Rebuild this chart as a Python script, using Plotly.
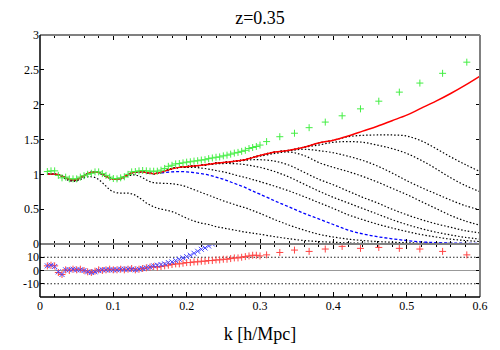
import plotly.graph_objects as go

# k grid shared by the model curves
k_grid = [0.010, 0.015, 0.020, 0.025, 0.030, 0.035, 0.040, 0.045, 0.050, 0.055,
          0.060, 0.065, 0.070, 0.075, 0.080, 0.085, 0.090, 0.095, 0.100, 0.105,
          0.110, 0.115, 0.120, 0.125, 0.130, 0.135, 0.140, 0.145, 0.150, 0.155,
          0.160, 0.17, 0.18, 0.19, 0.20, 0.21, 0.22, 0.23, 0.24, 0.25, 0.26, 0.27, 0.28, 0.29, 0.30,
          0.32, 0.34, 0.36, 0.38, 0.40, 0.42, 0.44, 0.46, 0.48, 0.50, 0.52, 0.54, 0.56, 0.58, 0.60]

red_line = [1.00, 1.005, 1.005, 0.995, 0.975, 0.95, 0.93, 0.92, 0.925, 0.95,
            0.98, 1.01, 1.03, 1.035, 1.025, 1.0, 0.97, 0.945, 0.93, 0.93,
            0.94, 0.965, 0.995, 1.02, 1.035, 1.04, 1.035, 1.025, 1.015, 1.01,
            1.015, 1.045, 1.08, 1.10, 1.11, 1.12, 1.13, 1.145, 1.16, 1.17, 1.18, 1.195, 1.21, 1.24, 1.27,
            1.32, 1.345, 1.39, 1.45, 1.49, 1.55, 1.62, 1.69, 1.77, 1.85, 1.95, 2.05, 2.16, 2.28, 2.41]

# tails of the curves where they leave the red one (aligned to the end of k_grid)
blue_tail = [1.01, 1.015,
             1.025, 1.035, 1.04, 1.035, 1.025, 1.01, 0.99, 0.96, 0.93, 0.89, 0.85, 0.81, 0.76, 0.715,
             0.62, 0.53, 0.44, 0.36, 0.28, 0.20, 0.145, 0.105, 0.075, 0.05, 0.03, 0.02, 0.013, 0.01, 0.008]

dotted_tails = [
    [0.99, 0.965, 0.935, 0.91, 0.9, 0.905, 0.925, 0.95, 0.965, 0.965, 0.955, 0.925, 0.88, 0.83,
     0.78, 0.75, 0.735, 0.73, 0.73, 0.73, 0.72, 0.70, 0.665, 0.63, 0.59, 0.56, 0.535, 0.515,
     0.49, 0.465, 0.42, 0.37, 0.33, 0.30, 0.28, 0.25, 0.23, 0.21, 0.19, 0.17, 0.155, 0.14,
     0.105, 0.075, 0.05, 0.035, 0.025, 0.015, 0.01, 0.007, 0.005, 0.004, 0.003, 0.002, 0.002, 0.001, 0.001],
    [0.925, 0.93, 0.95, 0.975, 0.99, 0.99, 0.975, 0.95, 0.92, 0.895, 0.88, 0.875,
     0.87, 0.865, 0.85, 0.82, 0.78, 0.74, 0.70, 0.66, 0.62, 0.585, 0.55, 0.52, 0.48, 0.44,
     0.35, 0.27, 0.20, 0.14, 0.10, 0.07, 0.05, 0.035, 0.025, 0.018, 0.013, 0.01, 0.008, 0.006, 0.005],
    [1.10, 1.10, 1.09, 1.075, 1.055, 1.035, 1.01, 0.98, 0.955, 0.925, 0.895,
     0.83, 0.76, 0.68, 0.595, 0.51, 0.42, 0.35, 0.285, 0.23, 0.18, 0.135, 0.10, 0.07, 0.05, 0.035],
    [1.14, 1.15, 1.155, 1.155, 1.15, 1.14, 1.12, 1.10,
     1.04, 0.96, 0.86, 0.76, 0.67, 0.59, 0.51, 0.43, 0.35, 0.28, 0.22, 0.17, 0.13, 0.095, 0.07],
    [1.19, 1.2, 1.21, 1.21,
     1.19, 1.13, 1.03, 0.93, 0.85, 0.76, 0.67, 0.59, 0.5, 0.42, 0.35, 0.29, 0.24, 0.19, 0.16],
    [1.26, 1.30, 1.32, 1.27, 1.17, 1.1, 1.04, 0.97, 0.89, 0.8, 0.71, 0.61, 0.51, 0.41, 0.33, 0.27],
    [1.34, 1.36, 1.34, 1.31, 1.26, 1.2, 1.12, 1.02, 0.91, 0.81, 0.72, 0.63, 0.55, 0.49],
    [1.42, 1.46, 1.47, 1.46, 1.42, 1.37, 1.3, 1.2, 1.08, 0.95, 0.84, 0.75],
    [1.54, 1.56, 1.565, 1.565, 1.55, 1.48, 1.37, 1.25, 1.14, 1.04],
]

# simulation points
k_dense = [0.010, 0.015, 0.020, 0.025, 0.030, 0.035, 0.040, 0.045, 0.050, 0.055,
           0.060, 0.065, 0.070, 0.075, 0.080, 0.085, 0.090, 0.095, 0.100, 0.105,
           0.110, 0.115, 0.120, 0.125, 0.130, 0.135, 0.140, 0.145, 0.150, 0.155,
           0.160, 0.165, 0.170, 0.175, 0.180, 0.185, 0.190, 0.195, 0.200, 0.205,
           0.210, 0.215, 0.220, 0.225, 0.230, 0.235, 0.240, 0.245, 0.250, 0.255,
           0.260, 0.265, 0.270, 0.275, 0.280, 0.285, 0.290, 0.295, 0.300]
green_dense = [1.04, 1.05, 1.05, 0.985, 0.95, 0.96, 0.935, 0.935, 0.935, 0.96,
               0.98, 1.0, 1.015, 1.035, 1.035, 1.01, 0.985, 0.96, 0.94, 0.935,
               0.95, 0.965, 1.0, 1.035, 1.04, 1.05, 1.055, 1.05, 1.045, 1.045,
               1.045, 1.06, 1.085, 1.115, 1.13, 1.15, 1.155, 1.165, 1.175, 1.18,
               1.19, 1.195, 1.205, 1.21, 1.225, 1.235, 1.245, 1.25, 1.265, 1.275,
               1.29, 1.305, 1.315, 1.33, 1.345, 1.37, 1.385, 1.40, 1.42]
k_sparse = [0.309, 0.327, 0.347, 0.367, 0.389, 0.412, 0.437, 0.462, 0.490, 0.518, 0.549, 0.582]
green_sparse = [1.47, 1.54, 1.59, 1.67, 1.75, 1.84, 1.94, 2.05, 2.18, 2.31, 2.45, 2.61]

# residuals [%]
red_dev_dense = [3.5, 4.0, 3.5, -1.5, -3.0, 0.5, 0.0, 1.0, 0.5, 1.0,
                 0.0, -1.0, -1.5, -0.5, 0.5, 0.0, 0.5, 1.0, 0.5, 0.5,
                 1.0, 0.5, 1.0, 1.5, 0.5, 1.0, 1.5, 2.0, 2.5, 3.0,
                 2.5, 3.0, 3.5, 4.0, 4.5, 5.0, 5.0, 5.5, 6.0, 6.0,
                 6.5, 6.5, 7.0, 7.0, 7.5, 7.5, 8.0, 8.0, 8.5, 8.5,
                 9.0, 9.5, 9.5, 10.0, 10.5, 11.0, 11.5, 11.5, 11.0]
red_dev_sparse = [11.8, 13.6, 15.4, 14.4, 16.2, 18.2, 16.7, 17.4, 16.7, 16.2, 14.4, 11.8]
blue_dev = [3.5, 4.0, 3.0, -1.0, -3.0, 0.5, 0.5, 1.0, 0.5, 0.5,
            0.0, -1.0, -1.5, -1.0, 0.0, 0.5, 0.5, 0.5, 0.5, 0.5,
            1.0, 1.0, 1.0, 1.0, 0.5, 1.0, 1.5, 2.0, 2.5, 3.5,
            4.0, 4.5, 5.0, 6.0, 6.5, 7.5, 8.5, 9.5, 10.5, 11.5,
            13.0, 14.5, 16.0, 17.0, 18.5, 20.0]

SERIF = "Liberation Serif, Times New Roman, serif"
fig = go.Figure()

n = len(k_grid)
for tail in dotted_tails:
    fig.add_trace(go.Scatter(x=k_grid, y=red_line[:n - len(tail)] + tail, mode="lines",
                             line=dict(color="black", width=1.2, dash="1.5px,2px", shape="spline"),
                             xaxis="x", yaxis="y"))
fig.add_trace(go.Scatter(x=k_grid, y=red_line[:n - len(blue_tail)] + blue_tail, mode="lines",
                         line=dict(color="#0000ff", width=1.3, dash="3px,2px", shape="spline"),
                         xaxis="x", yaxis="y"))
fig.add_trace(go.Scatter(x=k_grid, y=red_line, mode="lines",
                         line=dict(color="#ff0000", width=1.5, shape="spline"),
                         xaxis="x", yaxis="y"))
fig.add_trace(go.Scatter(x=k_dense + k_sparse, y=green_dense + green_sparse, mode="markers",
                         marker=dict(symbol="cross-thin-open", size=5, color="#44ee44",
                                     line=dict(color="#44ee44", width=1)),
                         xaxis="x", yaxis="y"))

fig.add_trace(go.Scatter(x=k_dense + k_sparse, y=red_dev_dense + red_dev_sparse, mode="markers",
                         marker=dict(symbol="cross-thin-open", size=5, color="#ff4444",
                                     line=dict(color="#ff4444", width=1)),
                         xaxis="x2", yaxis="y2"))
fig.add_trace(go.Scatter(x=k_dense[:len(blue_dev)], y=blue_dev, mode="markers",
                         marker=dict(symbol="x-thin-open", size=5, color="#4444ff",
                                     line=dict(color="#4444ff", width=1)),
                         xaxis="x2", yaxis="y2"))

# the page adds an 8px body margin, so the figure is 8px smaller and margins shifted
split = 53 / 262
tickfont = dict(family=SERIF, size=12, color="black")
xcommon = dict(range=[0, 0.6], tick0=0, dtick=0.1, ticks="inside", ticklen=5, tickcolor="black",
               minor=dict(dtick=0.02, ticks="inside", ticklen=3, tickcolor="black"),
               mirror="ticks", showgrid=False, zeroline=False, showline=False, tickfont=tickfont,
               automargin=False)
ycommon = dict(ticks="inside", ticklen=4, tickcolor="black", mirror="ticks",
               showgrid=False, zeroline=False, showline=False, tickfont=tickfont,
               automargin=False)

fig.update_layout(
    width=492, height=342, showlegend=False,
    margin=dict(l=32, r=20, t=27, b=53),
    paper_bgcolor="white", plot_bgcolor="white",
    title=dict(text="z=0.35", x=252 / 492, xanchor="center", y=1 - 3 / 342, yanchor="top",
               pad=dict(t=0), font=dict(family=SERIF, size=18, color="black")),
    xaxis=dict(anchor="y", showticklabels=False, **xcommon),
    xaxis2=dict(anchor="y2", matches="x",
                title=dict(text="k [h/Mpc]", font=dict(family=SERIF, size=18, color="black"),
                           standoff=15), **xcommon),
    yaxis=dict(domain=[split, 1], range=[0, 3], dtick=0.5, anchor="x", **ycommon),
    yaxis2=dict(domain=[0, split], range=[-20, 20], tickvals=[-10, 0, 10],
                ticktext=["-10", "0", "10"], anchor="x2", **ycommon),
)

shapes = [
    # bottom panel reference lines
    dict(type="line", xref="x2 domain", yref="y2", x0=0, x1=1, y0=10, y1=10,
         line=dict(color="#222222", width=1, dash="1.5px,2px"), layer="below"),
    dict(type="line", xref="x2 domain", yref="y2", x0=0, x1=1, y0=-10, y1=-10,
         line=dict(color="#222222", width=1, dash="1.5px,2px"), layer="below"),
    dict(type="line", xref="x2 domain", yref="y2", x0=0, x1=1, y0=0, y1=0,
         line=dict(color="#999999", width=1), layer="below"),
    # frames: gray top/right, black left/bottom
    dict(type="line", xref="x domain", yref="y domain", x0=0, x1=1, y0=1, y1=1,
         line=dict(color="#808080", width=2)),
    dict(type="line", xref="x domain", yref="y domain", x0=1, x1=1, y0=0, y1=1,
         line=dict(color="#808080", width=2)),
    dict(type="line", xref="x domain", yref="y domain", x0=0, x1=1, y0=0, y1=0,
         line=dict(color="#808080", width=2)),
    dict(type="line", xref="x2 domain", yref="y2 domain", x0=1, x1=1, y0=0, y1=1,
         line=dict(color="#808080", width=2)),
    dict(type="line", xref="x domain", yref="y domain", x0=0, x1=0, y0=0, y1=1,
         line=dict(color="black", width=1.5)),
    dict(type="line", xref="x2 domain", yref="y2 domain", x0=0, x1=0, y0=0, y1=1,
         line=dict(color="black", width=1.5)),
    dict(type="line", xref="x2 domain", yref="y2 domain", x0=0, x1=1, y0=0, y1=0,
         line=dict(color="black", width=1.5)),
]
fig.update_layout(shapes=shapes)

fig.write_html("out.html")
